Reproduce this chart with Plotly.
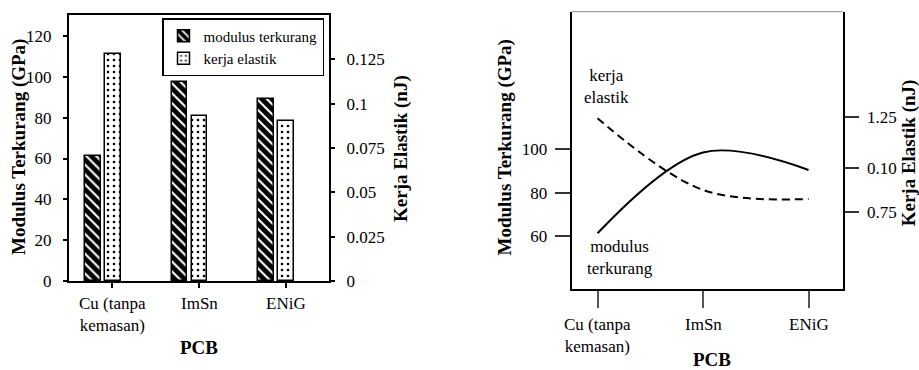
import plotly.graph_objects as go

# ---------------- data ----------------
categories = ["Cu (tanpa<br>kemasan)", "ImSn", "ENiG"]
modulus_bar = [61, 97.3, 89]            # GPa (left chart, left axis)
elastic_bar = [0.128, 0.093, 0.090]     # nJ (left chart, right axis)
modulus_line = [61.3, 98.6, 90.5]       # GPa (right chart, left axis)
elastic_line = [0.1242, 0.0867, 0.0820] # nJ (right chart, right axis)
left_y2_ticks = [0, 0.025, 0.05, 0.075, 0.1, 0.125]
left_y2_text = ["0", "0.025", "0.05", "0.075", "0.1", "0.125"]
right_y_ticks = [60, 80, 100]
right_y2_ticks = [0.125, 0.098, 0.075]
right_y2_text = ["1.25", "0.10", "0.75"]

FONT = "Times New Roman, Liberation Serif, serif"
W, H = 919, 370

def px(x):
    return x / W

def py(y):
    return 1 - y / H

fig = go.Figure()

# ---------- left chart: bars ----------
fig.add_trace(go.Bar(
    x=categories, y=modulus_bar, name="modulus terkurang",
    xaxis="x", yaxis="y", offset=-0.315, width=0.18,
    marker=dict(color="white", line=dict(color="black", width=1.5),
                pattern=dict(shape="\\", fgcolor="black", bgcolor="white",
                             size=7, solidity=0.7)),
))
fig.add_trace(go.Bar(
    x=categories, y=elastic_bar, name="kerja elastik",
    xaxis="x", yaxis="y2", offset=-0.085, width=0.18,
    marker=dict(color="white", line=dict(color="black", width=1.5),
                pattern=dict(shape=".", fgcolor="black", bgcolor="white",
                             size=6, solidity=0.15)),
))

# ---------- right chart: lines ----------
fig.add_trace(go.Scatter(
    x=categories, y=modulus_line, mode="lines", showlegend=False,
    xaxis="x2", yaxis="y3",
    line=dict(color="black", width=2, shape="spline"),
))
fig.add_trace(go.Scatter(
    x=categories, y=elastic_line, mode="lines", showlegend=False,
    xaxis="x2", yaxis="y4",
    line=dict(color="black", width=2, shape="spline", dash="8px,5px"),
))

tickfont = dict(family=FONT, size=17, color="black")
common = dict(automargin=False, showgrid=False, zeroline=False,
              tickfont=tickfont, showline=True, linewidth=2)

fig.update_layout(
    template="none",
    width=W, height=H,
    margin=dict(l=0, r=0, t=0, b=0, autoexpand=False),
    paper_bgcolor="white", plot_bgcolor="white",
    font=dict(family=FONT, size=17, color="black"),
    bargap=0,
    xaxis=dict(
        domain=[px(69), px(329)], anchor="y", type="category",
        range=[-0.5, 2.5], linecolor="black",
        mirror=True, ticks="outside", ticklen=5, tickcolor="black",
        tickwidth=1.5, showticklabels=False, **common,
    ),
    yaxis=dict(
        domain=[py(281), py(15)], anchor="x", range=[0, 130.3],
        dtick=20, linecolor="black",
        ticks="outside", ticklen=4, tickcolor="black", tickwidth=1.5,
        ticklabelstandoff=8, **common,
    ),
    yaxis2=dict(
        overlaying="y", side="right", anchor="x", range=[0, 0.15],
        tickvals=left_y2_ticks, ticktext=left_y2_text,
        linecolor="black",
        ticks="outside", ticklen=4, tickcolor="black", tickwidth=1.5,
        ticklabelstandoff=8, **common,
    ),
    xaxis2=dict(
        domain=[px(571.7), px(842.7)], anchor="y3", type="category",
        range=[-0.2445, 2.324], linecolor="black",
        ticks="outside", ticklen=17, tickcolor="#555555",
        tickwidth=2, showticklabels=False, **common,
    ),
    yaxis3=dict(
        domain=[py(289), py(11.7)], anchor="x2", range=[35.6, 163.5],
        tickvals=right_y_ticks, linecolor="black",
        ticks="outside", ticklen=15, tickcolor="#333333",
        tickwidth=1.5, ticklabelstandoff=4, **common,
    ),
    yaxis4=dict(
        overlaying="y3", side="right", anchor="x2", range=[0.0349, 0.1799],
        tickvals=right_y2_ticks, ticktext=right_y2_text,
        linecolor="black",
        ticks="outside", ticklen=14, tickcolor="#333333", tickwidth=1.5,
        ticklabelstandoff=5, **common,
    ),
    legend=dict(
        x=px(324), y=py(18), xanchor="right", yanchor="top",
        bordercolor="black", borderwidth=1.5, bgcolor="white",
        font=dict(family=FONT, size=15, color="black"),
        tracegroupgap=0, itemwidth=30,
    ),
    showlegend=True,
)

# top border of the right chart (thin grey)
fig.add_shape(type="line", xref="paper", yref="paper",
              x0=px(571.7), x1=px(842.7), y0=py(11.7), y1=py(11.7),
              line=dict(color="#888888", width=1))

def ann(text, x, y, size=17, bold=False, angle=0):
    fig.add_annotation(
        text=f"<b>{text}</b>" if bold else text,
        x=px(x), y=py(y), xref="paper", yref="paper",
        xanchor="center", yanchor="middle", showarrow=False,
        textangle=angle, font=dict(family=FONT, size=size, color="black"),
    )

# category labels under each chart, placed on the category axes
for xref, top in (("x", 292), ("x2", 313)):
    for cat in categories:
        fig.add_annotation(
            text=cat, x=cat, xref=xref, y=py(top), yref="paper",
            xanchor="center", yanchor="top", showarrow=False,
            font=dict(family=FONT, size=17, color="black"),
        )

# axis titles, left chart
ann("Modulus Terkurang (GPa)", 19, 147, 19, True, -90)
ann("Kerja Elastik (nJ)", 401.7, 148.3, 19, True, -90)
ann("PCB", 199, 347, 19, True)
# axis titles, right chart
ann("Modulus Terkurang (GPa)", 504, 147.5, 19, True, -90)
ann("Kerja Elastik (nJ)", 909, 153.3, 19, True, -90)
ann("PCB", 711.5, 359.5, 19, True)
# curve labels
ann("kerja<br>elastik", 606.7, 86)
ann("modulus<br>terkurang", 619.7, 257)

fig.write_html("out.html", config={"displayModeBar": False},
               post_script="document.body.style.margin='0px';")
